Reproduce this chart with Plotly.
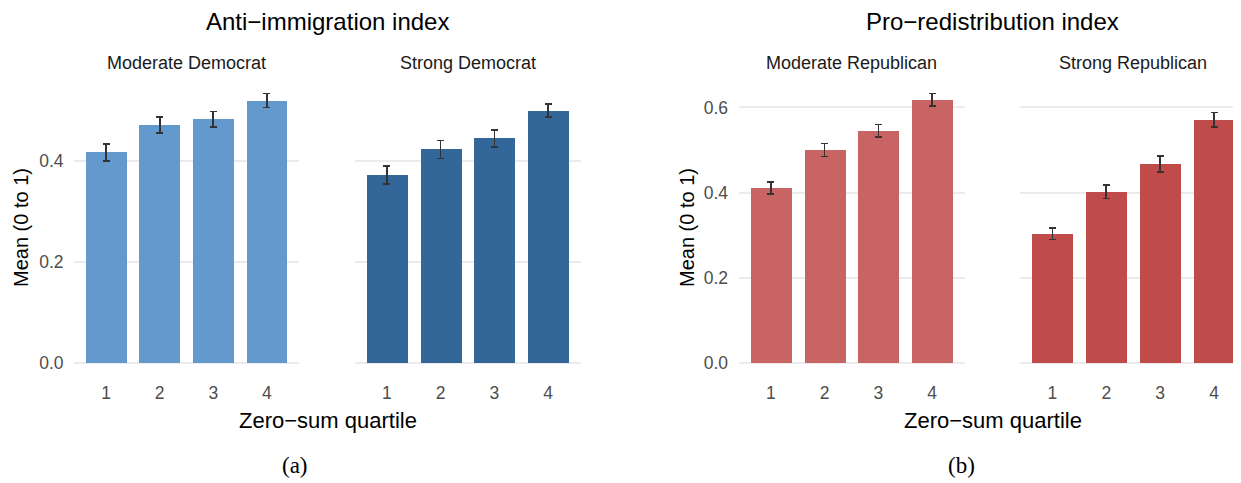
import plotly.graph_objects as go

W, H = 1241, 483
OFF = 8  # default page body margin of the browser
FW, FH = W - OFF, H - OFF

quartiles = ["1", "2", "3", "4"]
quartile_pos = [1, 2, 3, 4]

# Anti-immigration index
mod_dem_mean = [0.417, 0.471, 0.483, 0.520]
mod_dem_se = [0.017, 0.016, 0.015, 0.014]
str_dem_mean = [0.372, 0.423, 0.445, 0.500]
str_dem_se = [0.018, 0.018, 0.017, 0.013]

# Pro-redistribution index
mod_rep_mean = [0.411, 0.500, 0.545, 0.618]
mod_rep_se = [0.014, 0.015, 0.015, 0.015]
str_rep_mean = [0.303, 0.402, 0.467, 0.571]
str_rep_se = [0.014, 0.016, 0.019, 0.017]

panel_titles = ["Anti\u2212immigration index", "Pro\u2212redistribution index"]
strip_labels = ["Moderate Democrat", "Strong Democrat", "Moderate Republican", "Strong Republican"]
y_title = "Mean (0 to 1)"
x_title = "Zero\u2212sum quartile"
captions = ["(a)", "(b)"]
yticks_left = [0.0, 0.2, 0.4]
yticks_right = [0.0, 0.2, 0.4, 0.6]

colors = ["#6399CC", "#336699", "#C86464", "#BF4B4A"]

FONT = "Liberation Sans, Arial, sans-serif"

def px_x(p):
    return (p - OFF) / FW

def px_y(p):
    return 1 - (p - OFF) / FH

# panel pixel extents in window coordinates (left, right)
panels_px = [(74, 299), (354.5, 580.5), (738.5, 964.5), (1020, 1241)]
xranges = [[0.4, 4.6], [0.4, 4.6], [0.4, 4.6], [0.4, 0.4 + (1241 - 1020) / 53.9]]
y_top_px, y_bot_px = 80, 376

means = [mod_dem_mean, str_dem_mean, mod_rep_mean, str_rep_mean]
ses = [mod_dem_se, str_dem_se, mod_rep_se, str_rep_se]

left_max = max(max(m + s for m, s in zip(mm, ss)) for mm, ss in zip(means[:2], ses[:2]))
right_max = max(max(m + s for m, s in zip(mm, ss)) for mm, ss in zip(means[2:], ses[2:]))
yr_left = [-0.05 * left_max, 1.05 * left_max]
yr_right = [-0.05 * right_max, 1.05 * right_max]

fig = go.Figure()
for i in range(4):
    ax = "" if i == 0 else str(i + 1)
    fig.add_trace(go.Bar(
        x=quartile_pos, y=means[i], width=0.76,
        marker=dict(color=colors[i], line=dict(width=0)),
        error_y=dict(type="data", array=ses[i], visible=True, color="#333333",
                     thickness=1.6, width=3.5),
        xaxis="x" + ax, yaxis="y" + ax, showlegend=False, hoverinfo="skip",
    ))

layout = dict(
    width=FW, height=FH, margin=dict(l=0, r=0, t=0, b=0),
    paper_bgcolor="white", plot_bgcolor="white",
    font=dict(family=FONT, color="#4D4D4D"), bargap=0,
)
for i in range(4):
    ax = "" if i == 0 else str(i + 1)
    l, r = panels_px[i]
    layout["xaxis" + ax] = dict(
        domain=[max(0, px_x(l)), min(1, px_x(r))], range=xranges[i], anchor="y" + ax,
        tickvals=quartile_pos, ticktext=quartiles, showgrid=False, zeroline=False,
        showline=False, ticks="outside", ticklen=1, tickcolor="rgba(0,0,0,0)",
        tickfont=dict(size=17.5, color="#4D4D4D", family=FONT), fixedrange=True,
    )
    is_left = i < 2
    first = i in (0, 2)
    layout["yaxis" + ax] = dict(
        domain=[px_y(y_bot_px), px_y(y_top_px)],
        range=yr_left if is_left else yr_right, anchor="x" + ax,
        tickvals=yticks_left if is_left else yticks_right,
        tickformat=".1f", showticklabels=first,
        showgrid=True, gridcolor="#EBEBEB", gridwidth=1.5, zeroline=False,
        showline=False, ticks="outside" if first else "", ticklen=6,
        tickcolor="rgba(0,0,0,0)",
        tickfont=dict(size=17.5, color="#4D4D4D", family=FONT), fixedrange=True,
    )
fig.update_layout(**layout)

ann = []
# main titles
for t, cx in zip(panel_titles, [327, 992]):
    ann.append(dict(text=t, x=px_x(cx), y=px_y(21), xref="paper", yref="paper",
                    showarrow=False, xanchor="center", yanchor="middle",
                    font=dict(size=24, color="black", family=FONT)))
# strips
for lab, (l, r) in zip(strip_labels, panels_px):
    cx = (l + r) / 2 if r < 1241 else (l + 1246.5) / 2
    ann.append(dict(text=lab, x=px_x(cx), y=px_y(63), xref="paper", yref="paper",
                    showarrow=False, xanchor="center", yanchor="middle",
                    font=dict(size=18, color="#1A1A1A", family=FONT)))
# x axis titles
for cx in [327.5, 992.5]:
    ann.append(dict(text=x_title, x=px_x(cx), y=px_y(420), xref="paper", yref="paper",
                    showarrow=False, xanchor="center", yanchor="middle",
                    font=dict(size=22, color="black", family=FONT)))
# y axis titles
for cx in [21, 687]:
    ann.append(dict(text=y_title, x=px_x(cx), y=px_y(228), xref="paper", yref="paper",
                    showarrow=False, xanchor="center", yanchor="middle", textangle=-90,
                    font=dict(size=20, color="black", family=FONT)))
# captions
for c, cx in zip(captions, [295, 961]):
    ann.append(dict(text=c, x=px_x(cx), y=px_y(465), xref="paper", yref="paper",
                    showarrow=False, xanchor="center", yanchor="middle",
                    font=dict(size=23, color="black", family="Liberation Serif, Times New Roman, serif")))
fig.update_layout(annotations=ann)

fig.write_html("out.html")
